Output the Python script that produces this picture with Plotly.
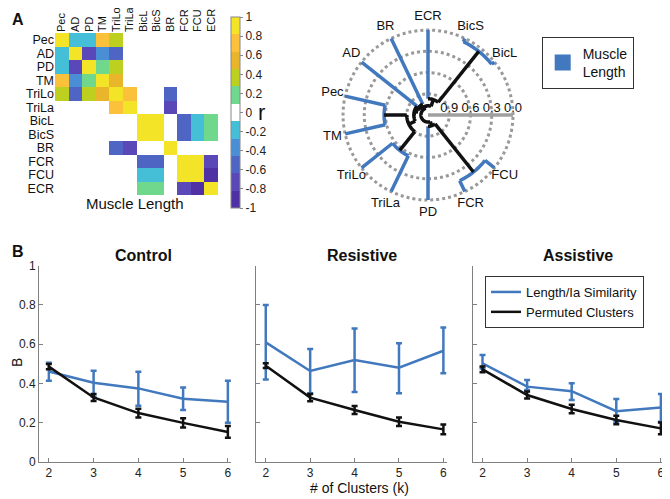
import numpy as np
import plotly.graph_objects as go

# ---------------- data ----------------
muscles = ['Pec', 'AD', 'PD', 'TM', 'TriLo', 'TriLa', 'BicL', 'BicS', 'BR', 'FCR', 'FCU', 'ECR']
corr = [
    [1.0, -0.2, -0.2, 0.7, 0.4, 0, 0, 0, 0, 0, 0, 0],
    [-0.2, 1.0, -0.75, -0.35, -0.5, 0, 0, 0, 0, 0, 0, 0],
    [-0.2, -0.75, 1.0, 0.2, 0.35, 0, 0, 0, 0, 0, 0, 0],
    [0.7, -0.35, 0.2, 1.0, 0.55, 0, 0, 0, 0, 0, 0, 0],
    [0.4, -0.5, 0.35, 0.55, 1.0, 0.7, 0, 0, -0.55, 0, 0, 0],
    [0, 0, 0, 0, 0.7, 1.0, 0, 0, -0.75, 0, 0, 0],
    [0, 0, 0, 0, 0, 0, 1.0, 0.9, 0, -0.55, -0.2, 0.15],
    [0, 0, 0, 0, 0, 0, 0.9, 1.0, 0, -0.55, -0.2, 0.15],
    [0, 0, 0, 0, -0.55, -0.75, 0, 0, 1.0, 0, 0, 0],
    [0, 0, 0, 0, 0, 0, -0.55, -0.55, 0, 1.0, 0.9, -0.75],
    [0, 0, 0, 0, 0, 0, -0.2, -0.2, 0, 0.9, 1.0, -0.9],
    [0, 0, 0, 0, 0, 0, 0.15, 0.15, 0, -0.75, -0.9, 1.0],
]
cbar_ticks = [-1, -0.8, -0.6, -0.4, -0.2, 0, 0.2, 0.4, 0.6, 0.8, 1]
cbar_ticktext = ['-1', '-0.8', '-0.6', '-0.4', '-0.2', '0', '0.2', '0.4', '0.6', '0.8', '1']
band_colors = ['#5030a5', '#5a48b8', '#4e65c4', '#4a8fd6', '#45bfd8', '#ffffff',
               '#6fd88c', '#bdd020', '#e9b52a', '#fbc13a', '#f4e428']

# dendrogram (leaf order counter-clockwise starting at BicL)
dendro_leaves = ['BicL', 'BicS', 'ECR', 'BR', 'AD', 'Pec', 'TM', 'TriLo', 'TriLa', 'PD', 'FCR', 'FCU']
dendro_merges = [
    ('BicL', 'BicS', 0.05),
    ('FCR', 'FCU', 0.17),
    ('TriLo', 'TriLa', 0.56),
    ('Pec', 'TM', 0.58),
    ('n3', 'n2', 0.90),
    ('n0', 'ECR', 0.97),
    ('AD', 'n4', 1.00),
    ('BR', 'n6', 1.03),
    ('PD', 'n1', 1.04),
    ('n5', 'n7', 1.07),
    ('n9', 'n8', 1.10),
]
radial_tickvals = [0.9, 0.6, 0.3, 0.0]

k = [2, 3, 4, 5, 6]
ctrl_len = [0.46, 0.403, 0.374, 0.321, 0.306]
ctrl_len_hi = [0.505, 0.464, 0.459, 0.378, 0.413]
ctrl_len_lo = [0.413, 0.332, 0.286, 0.264, 0.199]
ctrl_perm = [0.485, 0.328, 0.248, 0.198, 0.152]
ctrl_perm_err = [0.013, 0.018, 0.022, 0.024, 0.03]

res_len = [0.609, 0.463, 0.519, 0.48, 0.566]
res_len_hi = [0.80, 0.575, 0.679, 0.604, 0.685]
res_len_lo = [0.42, 0.349, 0.355, 0.349, 0.451]
res_perm = [0.49, 0.327, 0.264, 0.204, 0.165]
res_perm_err = [0.012, 0.018, 0.02, 0.022, 0.025]

ass_len = [0.502, 0.383, 0.36, 0.258, 0.277]
ass_len_hi = [0.544, 0.417, 0.40, 0.32, 0.345]
ass_len_lo = [0.476, 0.366, 0.315, 0.204, 0.204]
ass_perm = [0.471, 0.34, 0.269, 0.213, 0.17]
ass_perm_err = [0.015, 0.018, 0.022, 0.022, 0.03]

BLUE = '#4178be'
BLACK = '#111111'
FONT = 'Liberation Sans, Arial, sans-serif'
OFF = 8                      # page body margin
W, H = 670 - OFF, 499 - OFF  # figure size so the page fits the window


def px_x(p):
    return (p - OFF) / W


def px_y(p):
    return (H - (p - OFF)) / H


fig = go.Figure()

# ---------------- heatmap ----------------
n = len(band_colors)
cs = []
for i, c in enumerate(band_colors):
    cs.append([i / n, c])
    cs.append([(i + 1) / n, c])

fig.add_trace(go.Heatmap(
    z=corr, x=muscles, y=muscles, zmin=-1, zmax=1, colorscale=cs,
    xaxis='x', yaxis='y', hoverinfo='skip',
    colorbar=dict(
        x=px_x(231), xanchor='left', y=px_y(112.5), yanchor='middle',
        thickness=9, thicknessmode='pixels', len=191, lenmode='pixels',
        tickvals=cbar_ticks, ticktext=cbar_ticktext, ticks='outside', ticklen=3,
        tickcolor='#888', tickfont=dict(size=12, color='#222'),
        outlinecolor='#888', outlinewidth=1, xpad=0, ypad=0,
    ),
))

# ---------------- polar dendrogram ----------------
TOP = 1.2
CUT = 0.7
RMAX = 1.5
step = 360 / 14
leaf_ang = {name: 38.5714 + i * step for i, name in enumerate(dendro_leaves)}
pos = {name: (leaf_ang[name], 0.0) for name in dendro_leaves}

segs = {BLUE: ([], []), BLACK: ([], [])}


def add_seg(color, rs, ts):
    segs[color][0].extend(list(rs) + [None])
    segs[color][1].extend(list(ts) + [None])


for idx, (a, b, h) in enumerate(dendro_merges):
    col = BLUE if h < CUT else BLACK
    for ch in (a, b):
        ang, hc = pos[ch]
        c2 = BLUE if ch in dendro_leaves else col
        add_seg(c2, [TOP - hc, TOP - h], [ang, ang])
    a1, a2 = pos[a][0], pos[b][0]
    nn = int(abs(a2 - a1) / 2) + 2
    ts = np.linspace(a1, a2, nn)
    add_seg(col, [TOP - h] * nn, ts)
    pos['n%d' % idx] = ((a1 + a2) / 2, h)

# radial axis line (gray) from centre to the leaf ring
fig.add_trace(go.Scatterpolar(
    r=[0, TOP], theta=[0, 0], mode='lines', line=dict(color='#a0a0a0', width=3.5),
    showlegend=False, hoverinfo='skip', subplot='polar',
))
for color in (BLUE, BLACK):
    fig.add_trace(go.Scatterpolar(
        r=segs[color][0], theta=segs[color][1], mode='lines',
        line=dict(color=color, width=3.5), showlegend=False, hoverinfo='skip',
        subplot='polar',
    ))

fig.add_trace(go.Scatterpolar(
    r=[TOP + 0.185] * len(dendro_leaves), theta=[leaf_ang[m] for m in dendro_leaves],
    mode='text', text=dendro_leaves, textfont=dict(size=13, color='#111'),
    showlegend=False, hoverinfo='skip', subplot='polar',
))
fig.add_trace(go.Scatterpolar(
    r=[None], theta=[None], mode='markers', name='Muscle<br>Length',
    marker=dict(symbol='square', size=16, color=BLUE),
    subplot='polar', legend='legend2',
))

# ---------------- line panels ----------------
panels = [
    ('x2', 'y2', ctrl_len, ctrl_len_hi, ctrl_len_lo, ctrl_perm, ctrl_perm_err, True),
    ('x3', 'y3', res_len, res_len_hi, res_len_lo, res_perm, res_perm_err, False),
    ('x4', 'y4', ass_len, ass_len_hi, ass_len_lo, ass_perm, ass_perm_err, False),
]
for xa, ya, ln, hi, lo, pm, pe, show in panels:
    fig.add_trace(go.Scatter(
        x=k, y=ln, mode='lines', xaxis=xa, yaxis=ya,
        line=dict(color=BLUE, width=2.5), name='Length/Ia Similarity', showlegend=show,
        error_y=dict(type='data', symmetric=False,
                     array=[h_ - v for h_, v in zip(hi, ln)],
                     arrayminus=[v - l_ for v, l_ in zip(ln, lo)],
                     color=BLUE, thickness=2.5, width=3),
    ))
    fig.add_trace(go.Scatter(
        x=k, y=pm, mode='lines', xaxis=xa, yaxis=ya,
        line=dict(color=BLACK, width=2.5), name='Permuted Clusters', showlegend=show,
        error_y=dict(type='data', array=pe, color=BLACK, thickness=2.5, width=3),
    ))

ax_common = dict(showline=True, linecolor='#808080', linewidth=1, ticks='inside',
                 ticklen=4, tickcolor='#808080', showgrid=False, zeroline=False,
                 automargin=False, tickfont=dict(size=12, color='#222'))
xdoms = [(39, 231), (256, 446.5), (472.7, 664)]
ydom = [px_y(461.7), px_y(265.7)]
for i, (x0, x1) in enumerate(xdoms):
    sx = str(i + 2)
    fig.layout['xaxis' + sx] = dict(domain=[px_x(x0), px_x(x1)], range=[1.78, 6.07],
                                    tickvals=k, anchor='y' + sx, **ax_common)
    fig.layout['yaxis' + sx] = dict(domain=ydom, range=[0, 1], anchor='x' + sx,
                                    tickvals=[0, 0.2, 0.4, 0.6, 0.8, 1],
                                    ticktext=['0', '0.2', '0.4', '0.6', '0.8', '1'],
                                    showticklabels=(i == 0), **ax_common)

pr = 70.8 * RMAX  # polar radius in px
fig.update_layout(
    width=W, height=H, margin=dict(l=0, r=0, t=0, b=0, autoexpand=False),
    paper_bgcolor='white', plot_bgcolor='white',
    font=dict(family=FONT, color='#111'),
    xaxis=dict(domain=[px_x(55), px_x(218)], side='top', tickangle=-90,
               tickmode='array', tickvals=muscles, ticktext=muscles,
               showgrid=False, zeroline=False, ticks='', ticklen=0, ticklabelstandoff=0,
               anchor='y', automargin=False,
               tickfont=dict(size=11, color='#111'), showline=False),
    yaxis=dict(domain=[px_y(195), px_y(33)], autorange='reversed', showgrid=False,
               tickmode='array', tickvals=muscles, ticktext=muscles,
               zeroline=False, ticks='', anchor='x', automargin=False,
               tickfont=dict(size=12.5, color='#111'), showline=False),
    polar=dict(
        domain=dict(x=[px_x(428 - pr), px_x(428 + pr)], y=[px_y(115 + pr), px_y(115 - pr)]),
        bgcolor='rgba(0,0,0,0)',
        radialaxis=dict(range=[0, RMAX], tickvals=[TOP - v for v in radial_tickvals],
                        ticktext=['%.1f' % v for v in radial_tickvals], angle=0,
                        side='counterclockwise', showline=False,
                        showgrid=True, gridcolor='#999999', griddash='dot',
                        gridwidth=2.5, ticks='', tickfont=dict(size=13, color='#111')),
        angularaxis=dict(showline=False, showgrid=False, showticklabels=False, ticks=''),
    ),
    legend=dict(x=px_x(485), y=px_y(276), xanchor='left', yanchor='top',
                bordercolor='#333', borderwidth=1, font=dict(size=13, color='#111'),
                bgcolor='white', tracegroupgap=0),
    legend2=dict(x=px_x(541.7), y=px_y(36.7), xanchor='left', yanchor='top',
                 bordercolor='#333', borderwidth=1, font=dict(size=14, color='#111'),
                 bgcolor='white', itemwidth=30),
)

ann = [
    dict(text='<b>A</b>', x=px_x(10), y=px_y(19), xanchor='left', yanchor='middle', font=dict(size=16)),
    dict(text='<b>B</b>', x=px_x(10), y=px_y(251), xanchor='left', yanchor='middle', font=dict(size=16)),
    dict(text='Muscle Length', x=px_x(135), y=px_y(203), xanchor='center', yanchor='middle', font=dict(size=15)),
    dict(text='r', x=px_x(261), y=px_y(112), xanchor='center', yanchor='middle', font=dict(size=22)),
    dict(text='<b>Control</b>', x=px_x(143.5), y=px_y(255), xanchor='center', yanchor='middle', font=dict(size=16)),
    dict(text='<b>Resistive</b>', x=px_x(361.5), y=px_y(255), xanchor='center', yanchor='middle', font=dict(size=16)),
    dict(text='<b>Assistive</b>', x=px_x(577.5), y=px_y(255), xanchor='center', yanchor='middle', font=dict(size=16)),
    dict(text='# of Clusters (k)', x=px_x(359.5), y=px_y(488), xanchor='center', yanchor='middle', font=dict(size=14)),
    dict(text='B', x=px_x(17), y=px_y(363), xanchor='center', yanchor='middle', textangle=-90, font=dict(size=14)),
]
for a in ann:
    a.update(xref='paper', yref='paper', showarrow=False)
    a['font'].setdefault('color', '#111')
    a['font'].setdefault('family', FONT)
fig.update_layout(annotations=ann)

fig.write_html('out.html')
